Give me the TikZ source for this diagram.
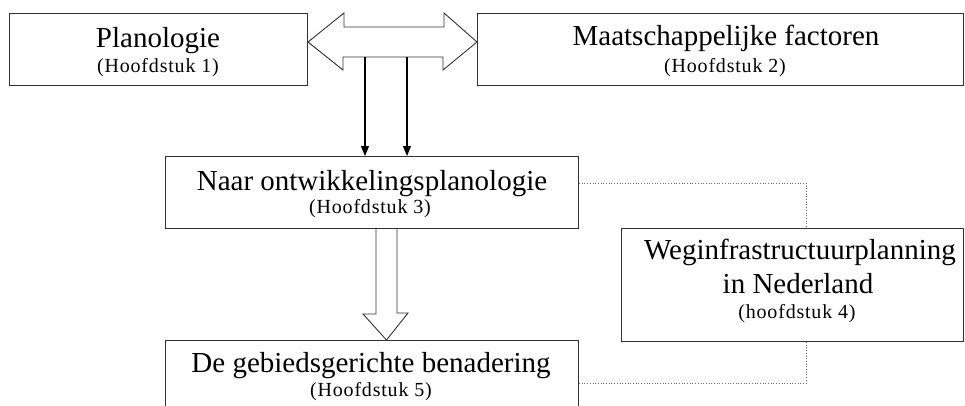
\documentclass[tikz,border=0pt]{standalone}
\usepackage{fontspec}
\setmainfont{Liberation Serif}
\usetikzlibrary{arrows.meta,calc}
\begin{document}
\begin{tikzpicture}[x=1pt,y=-1pt,
  box/.style={draw=black!80, line width=1pt, inner sep=0pt, anchor=north west},
  ttl/.style={anchor=base, inner sep=0pt, font=\fontsize{29}{34}\selectfont},
  sub/.style={anchor=base, inner sep=0pt, font=\fontsize{20}{24}\selectfont\addfontfeatures{LetterSpace=4}},
  hollow/.style={draw=black!80, line width=0.9pt, fill=white, line join=miter},
  link/.style={draw=black!55, line width=0.7pt, dotted},
  feed/.style={draw=black, line width=1.1pt, -{Triangle[length=10pt,width=8pt]}}
]
\useasboundingbox (0,0) rectangle (965,405);
\clip (0,0) rectangle (965,405);

% chapter boxes
\node[box, minimum width=298pt, minimum height=72pt]  (plan)   at (9,13)   {};
\node[box, minimum width=486pt, minimum height=72pt]  (maat)   at (477,13) {};
\node[box, minimum width=413pt, minimum height=72pt]  (naar)   at (165,156) {};
\node[box, minimum width=342pt, minimum height=113pt] (weg)    at (621,228) {};
\node[box, minimum width=413pt, minimum height=100pt] (gebied) at (165,340) {};

% box texts
\node[ttl] (t1)  at (158,47)  {Planologie};
\node[sub] (s1)  at (158,72)  {(Hoofdstuk 1)};
\node[ttl] (t2)  at (726,45)  {Maatschappelijke factoren};
\node[sub] (s2)  at (725,72)  {(Hoofdstuk 2)};
\node[ttl] (t3)  at (372,190) {Naar ontwikkelingsplanologie};
\node[sub] (s3)  at (370,213) {(Hoofdstuk 3)};
\node[ttl] (t4a) at (800,259) {Weginfrastructuurplanning};
\node[ttl] (t4b) at (798,293) {in Nederland};
\node[sub] (s4)  at (797,318) {(hoofdstuk 4)};
\node[ttl] (t5)  at (371,372) {De gebiedsgerichte benadering};
\node[sub] (s5)  at (371,396) {(Hoofdstuk 5)};

% hollow double arrow between the two top boxes
\coordinate (dl) at (plan.east |- 0,42);
\coordinate (dr) at (maat.west |- 0,42);
\filldraw[hollow] (dl) -- ++(36,-29) -- ++(0,14) -- ++(100,0) -- ++(0,-14)
  -- (dr) -- ++(-34,28) -- ++(0,-13) -- ++(-100,0) -- ++(0,13) -- cycle;

% two feeds from the double arrow into chapter 3
\coordinate (f1) at (365,57);
\coordinate (f2) at (407,57);
\draw[feed] (f1) -- (f1 |- naar.north);
\draw[feed] (f2) -- (f2 |- naar.north);

% hollow arrow from chapter 3 to chapter 5
\coordinate (hs) at (naar.south -| 376,0);
\filldraw[hollow] (hs) -- ++(0,85) -- ++(-13,0) -- (386.5,340) -- (408,313)
  -- ++(-11,0) -- (naar.south -| 397,0);

% dotted links to chapter 4
\coordinate (j1) at (806,183);
\coordinate (j2) at (806,383);
\draw[link] (naar.east |- j1) -| (j1 |- weg.north);
\draw[link] (j2 |- weg.south) |- (gebied.east |- j2);
\end{tikzpicture}
\end{document}
